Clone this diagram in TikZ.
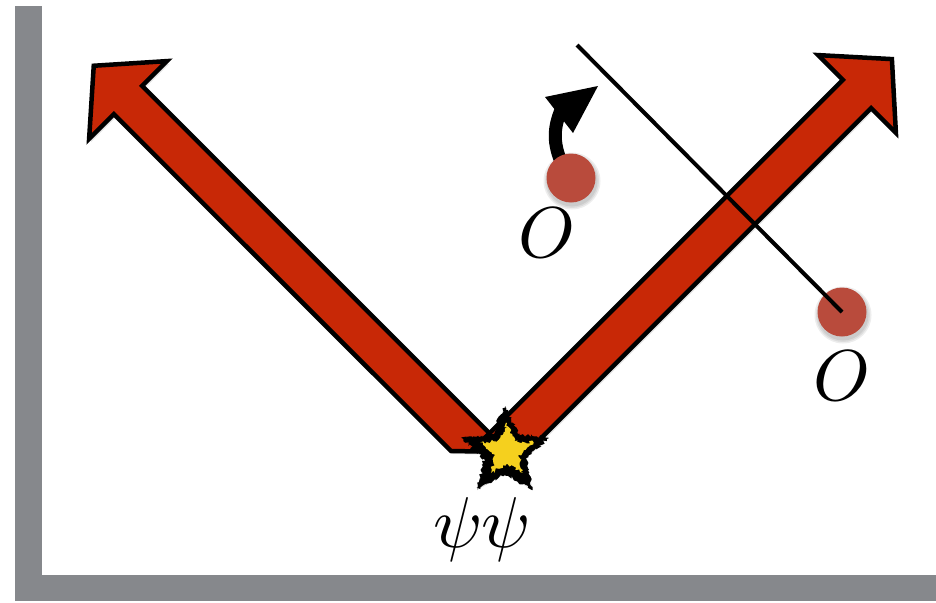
\documentclass[tikz,border=0pt]{standalone}
\usepackage{unicode-math}
\setmathfont{Latin Modern Math}
\usetikzlibrary{calc,decorations.pathmorphing}
\definecolor{arrowred}{RGB}{200,40,6}
\definecolor{dotred}{RGB}{185,75,60}
\definecolor{framegray}{RGB}{134,136,140}
\definecolor{staryellow}{RGB}{245,208,30}
\tikzset{
  bigarrow/.style={fill=arrowred, draw=black, line width=4.5pt, line join=miter, miter limit=10},
  arrowshadow/.style={fill=black, opacity=0.10},
  dotshadow/.style={fill=black, opacity=0.07},
  ball/.style={fill=dotred},
  biglabel/.style={inner sep=0pt, font=\fontsize{72}{86}\selectfont},
  rough/.style={decorate, decoration={random steps, segment length=1.8pt, amplitude=1.8pt}}
}
\begin{document}
\begin{tikzpicture}[x=1pt,y=-1pt]
\useasboundingbox (0,0) rectangle (936,602);
\fill[white] (0,0) rectangle (936,602);
% grey frame
\fill[framegray] (15,6) rectangle (42,601);
\fill[framegray] (15,575) rectangle (936,601);

% left arrow
\def\leftarrowpath{(451,451) -- (113.85,114.15) -- (89.1,138.9) -- (93.75,65.75) -- (166.9,61.1) -- (142.15,85.85) -- (508.3,452) -- cycle}
\fill[arrowshadow, shift={(2,3)}] \leftarrowpath;
\draw[bigarrow] \leftarrowpath;

% right arrow
\def\rightarrowpath{(481.35,441.35) -- (842.85,79.85) -- (818.1,55.1) -- (891.9,59.1) -- (895.9,132.9) -- (871.15,108.15) -- (509.65,469.65) -- cycle}
\fill[arrowshadow, shift={(2,3)}] \rightarrowpath;
\draw[bigarrow] \rightarrowpath;

% second dot and line
\coordinate (d2) at (842,312);
\foreach \r in {25.5,27,28.5}{\fill[dotshadow] ($(d2)+(1,3)$) circle (\r);}
\fill[ball] (d2) circle (24.5);
\coordinate (lstart) at (577,45);
\draw[line width=4pt] (lstart) -- (d2);

% first dot with curved arrow
\coordinate (d1) at (571,178);
\draw[line width=13pt] (563,166) .. controls (552,143) and (554,127) .. (561,110);
\fill[black] (598,86) -- (545,97) -- (573,133) -- cycle;
\foreach \r in {25.5,27,28.5}{\fill[dotshadow] ($(d1)+(1,3)$) circle (\r);}
\fill[ball] (d1) circle (24.5);

% star
\coordinate (sc) at (505,452);
\fill[black, opacity=0.12, shift={(3,4)}] ($(sc)+(-90:46)$) -- ($(sc)+(-54:22)$) -- ($(sc)+(-18:46)$) -- ($(sc)+(18:22)$) -- ($(sc)+(54:47)$) -- ($(sc)+(90:22)$) -- ($(sc)+(126:47)$) -- ($(sc)+(162:22)$) -- ($(sc)+(198:46)$) -- ($(sc)+(234:22)$) -- cycle;
\fill[black, rough] ($(sc)+(-90:46)$) -- ($(sc)+(-54:22)$) -- ($(sc)+(-18:46)$) -- ($(sc)+(18:22)$) -- ($(sc)+(54:47)$) -- ($(sc)+(90:22)$) -- ($(sc)+(126:47)$) -- ($(sc)+(162:22)$) -- ($(sc)+(198:46)$) -- ($(sc)+(234:22)$) -- cycle;
\coordinate (yc) at (507,451);
\fill[staryellow, rough] ($(yc)+(-90:28)$) -- ($(yc)+(-54:12.5)$) -- ($(yc)+(-18:28)$) -- ($(yc)+(18:12.5)$) -- ($(yc)+(54:27)$) -- ($(yc)+(90:12.5)$) -- ($(yc)+(126:27)$) -- ($(yc)+(162:12.5)$) -- ($(yc)+(198:28)$) -- ($(yc)+(234:12.5)$) -- cycle;

% labels
\node[biglabel] (o1) at (546,233) {$O$};
\node[biglabel] (o2) at (841,376) {$O$};
\node[biglabel] (psi) at (481,530) {$\psi\psi$};
\end{tikzpicture}
\end{document}
